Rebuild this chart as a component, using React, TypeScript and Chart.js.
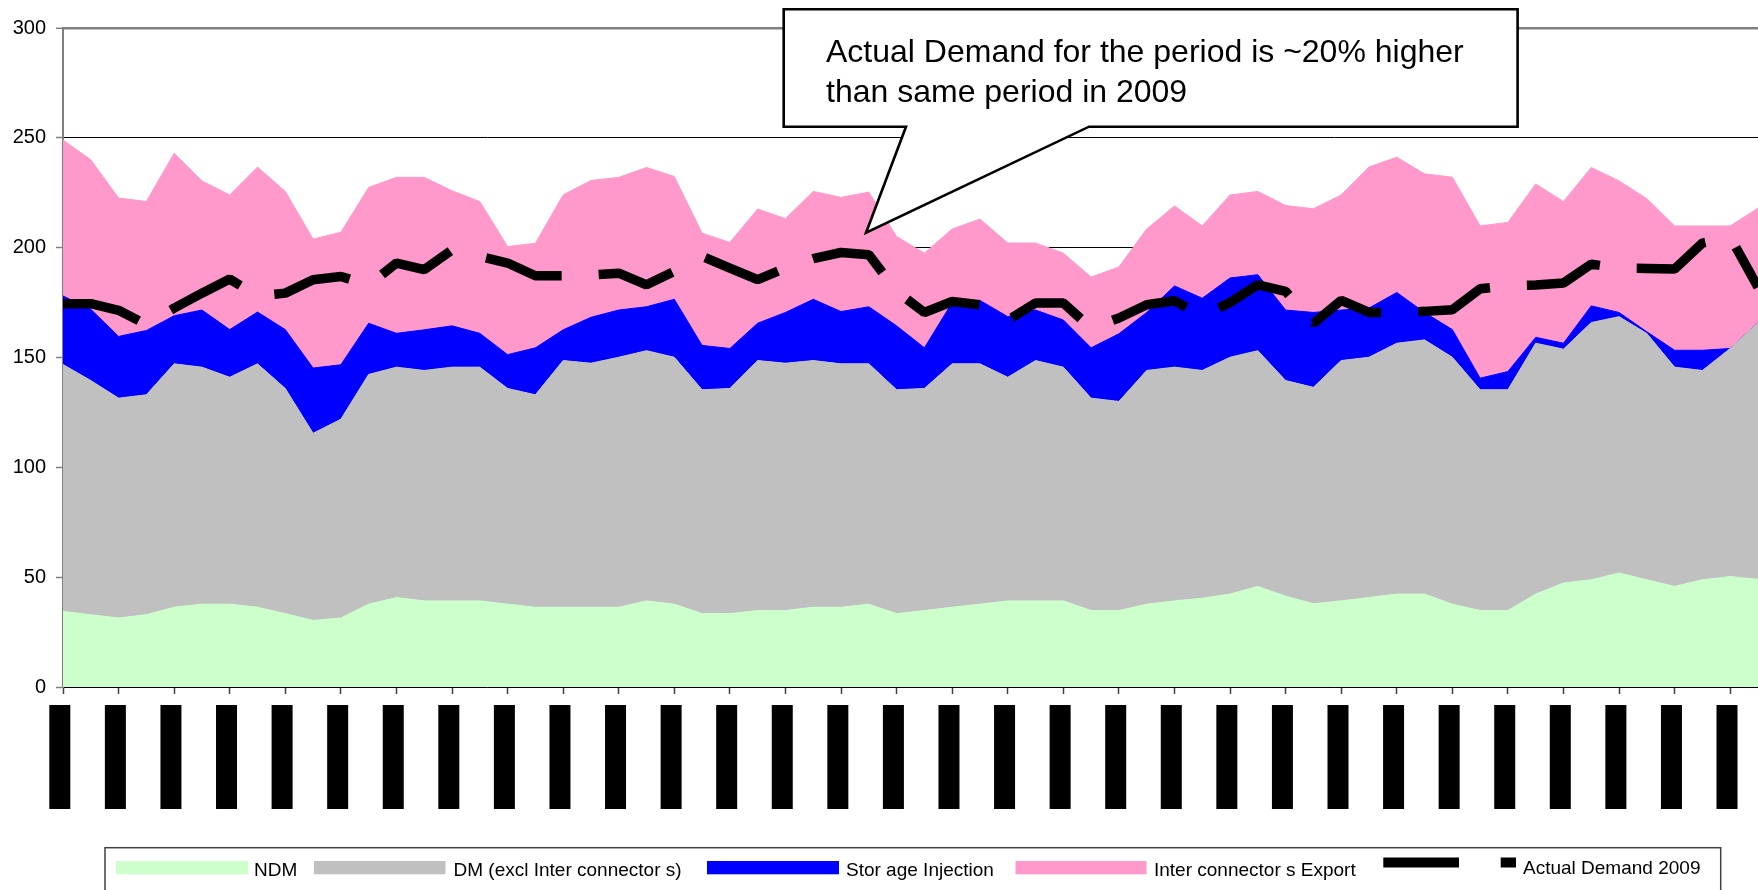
import React, { useEffect, useRef } from 'react';
import { Chart, registerables } from 'chart.js';

Chart.register(...registerables);

// ---------- data ----------
const categories = [
  '01/06/2010', '02/06/2010', '03/06/2010', '04/06/2010', '05/06/2010', '06/06/2010', '07/06/2010', '08/06/2010',
  '09/06/2010', '10/06/2010', '11/06/2010', '12/06/2010', '13/06/2010', '14/06/2010', '15/06/2010', '16/06/2010',
  '17/06/2010', '18/06/2010', '19/06/2010', '20/06/2010', '21/06/2010', '22/06/2010', '23/06/2010', '24/06/2010',
  '25/06/2010', '26/06/2010', '27/06/2010', '28/06/2010', '29/06/2010', '30/06/2010', '01/07/2010', '02/07/2010',
  '03/07/2010', '04/07/2010', '05/07/2010', '06/07/2010', '07/07/2010', '08/07/2010', '09/07/2010', '10/07/2010',
  '11/07/2010', '12/07/2010', '13/07/2010', '14/07/2010', '15/07/2010', '16/07/2010', '17/07/2010', '18/07/2010',
  '19/07/2010', '20/07/2010', '21/07/2010', '22/07/2010', '23/07/2010', '24/07/2010', '25/07/2010', '26/07/2010',
  '27/07/2010', '28/07/2010', '29/07/2010', '30/07/2010', '31/07/2010', '01/08/2010',
];

const ndm = [
  34.4, 32.9, 31.4, 32.9, 36.3, 37.7, 37.7, 36.3, 33.4, 30.3,
  31.4, 37.7, 40.7, 39.2, 39.2, 39.2, 37.7, 36.3, 36.3, 36.3,
  36.3, 39.2, 37.7, 33.4, 33.4, 34.8, 34.8, 36.3, 36.3, 37.7,
  33.4, 34.8, 36.3, 37.7, 39.2, 39.2, 39.2, 34.8, 34.8, 37.7,
  39.2, 40.4, 42.3, 45.8, 41.3, 37.9, 39.2, 40.7, 42.3, 42.3,
  37.7, 34.8, 34.8, 42.3, 47.3, 48.8, 51.9, 48.8, 45.8, 48.8,
  50.3, 49.0,
];

const dmExclInterconnectors = [
  112.4, 106.6, 100.1, 100.1, 110.8, 107.9, 103.3, 110.8, 102.5, 85.2,
  90.5, 104.6, 104.9, 104.9, 106.4, 106.4, 98.2, 96.7, 112.3, 111.1,
  113.8, 113.9, 112.4, 101.9, 102.5, 113.8, 112.6, 112.3, 110.8, 109.4,
  101.9, 101.1, 110.8, 109.4, 101.8, 109.4, 106.4, 96.7, 95.2, 106.4,
  106.4, 103.7, 107.8, 107.3, 98.2, 98.5, 109.4, 109.4, 114.2, 115.7,
  112.4, 100.5, 100.5, 114.2, 106.5, 117.1, 116.7, 112.1, 99.8, 95.3,
  103.8, 116.8,
];

const storageInjection = [
  31.2, 32.5, 28.1, 29.3, 21.9, 26.0, 21.7, 23.6, 26.8, 29.7,
  24.8, 23.3, 15.4, 18.5, 18.8, 15.4, 15.4, 21.4, 14.0, 20.9,
  21.5, 20.0, 26.4, 20.2, 18.2, 17.0, 23.1, 27.9, 23.8, 26.0,
  29.1, 18.5, 27.9, 28.9, 27.6, 23.0, 21.5, 22.9, 30.8, 26.4,
  37.0, 32.9, 36.1, 34.6, 32.1, 34.1, 23.0, 22.4, 23.1, 12.5,
  12.6, 5.3, 8.3, 2.7, 2.7, 7.6, 1.9, 0.8, 7.7, 9.2,
  0, 0,
];

const interconnectorsExport = [
  71.0, 68.0, 63.0, 58.7, 74.0, 58.8, 61.3, 66.0, 62.9, 58.7,
  60.3, 61.8, 71.0, 69.4, 61.5, 60.0, 49.2, 47.6, 61.4, 62.3,
  60.4, 63.4, 55.9, 51.1, 48.3, 52.0, 42.7, 49.1, 52.0, 52.2,
  40.7, 43.1, 33.5, 37.0, 33.5, 30.5, 30.4, 32.2, 30.4, 38.0,
  36.4, 32.9, 37.8, 37.9, 47.6, 47.2, 52.4, 64.2, 61.6, 63.1,
  69.4, 69.3, 67.9, 69.8, 64.5, 63.0, 59.9, 60.6, 56.6, 56.6,
  55.8, 52.2,
];

const actualDemand2009 = [
  174.5, 174.5, 171.5, 165.0, 172.5, 179.3, 185.7, 178.0, 179.3, 185.4,
  186.9, 183.0, 193.0, 190.0, 199.0, 196.0, 193.0, 187.2, 187.2, 187.5,
  188.4, 183.1, 189.2, 196.0, 190.7, 185.4, 190.7, 195.0, 197.8, 196.8,
  180.1, 170.5, 175.5, 174.0, 167.0, 174.8, 174.8, 163.4, 168.0, 174.0,
  175.8, 168.7, 175.0, 183.1, 180.1, 165.5, 176.0, 170.5, 170.5, 171.0,
  171.7, 181.3, 182.7, 183.0, 183.9, 192.5, 190.7, 190.5, 190.3, 202.1,
  204.8, 182.0,
];

const seriesNames = [
  'NDM',
  'DM (excl Inter connector s)',
  'Stor age Injection',
  'Inter connector s Export',
  'Actual Demand 2009',
];

const seriesColors = ['#CCFFCC', '#C0C0C0', '#0000FF', '#FF99CC', '#000000'];

const yMin = 0;
const yMax = 300;
const yStep = 50;

const calloutLines = [
  'Actual Demand for the period is ~20% higher',
  'than same period in 2009',
];
// the callout's pointer tip, in data coordinates (category index, value)
const calloutTip = { index: 28.9, value: 206.8 };

const FONT = '"Liberation Sans", Arial, "DejaVu Sans", sans-serif';

// ---------- plugins ----------
const blockLabelsPlugin = {
  id: 'blockLabels',
  afterDraw(chart: any) {
    const xs = chart.scales.x;
    const ctx = chart.ctx;
    ctx.save();
    xs.ticks.forEach((t: any, i: number) => {
      const px = xs.getPixelForTick(i);
      const w = 21;
      const h = 104;
      const left = px - 13.7;
      const top = xs.top + 18;
      ctx.fillStyle = '#000';
      ctx.fillRect(left, top, w, h);
      ctx.save();
      ctx.translate(left + w / 2, top + h / 2);
      ctx.rotate(-Math.PI / 2);
      ctx.font = `15px ${FONT}`;
      ctx.textAlign = 'center';
      ctx.textBaseline = 'middle';
      ctx.fillStyle = '#000';
      ctx.fillText(categories[t.value], 0, 0);
      ctx.restore();
    });
    ctx.restore();
  },
};

const boxLegendPlugin = {
  id: 'boxLegend',
  afterDraw(chart: any) {
    const ctx = chart.ctx;
    const ds = chart.data.datasets;
    ctx.save();
    ctx.strokeStyle = '#404040';
    ctx.lineWidth = 1.5;
    ctx.strokeRect(105, 847.7, 1720.7 - 105, 70);
    ctx.font = `19px ${FONT}`;
    ctx.textBaseline = 'alphabetic';
    ctx.textAlign = 'left';
    const areaItems = [
      { k: 0, sx: 116, sw: 132, tx: 254 },
      { k: 1, sx: 314, sw: 131.5, tx: 453.5 },
      { k: 2, sx: 707, sw: 132, tx: 846 },
      { k: 3, sx: 1015.5, sw: 131, tx: 1154 },
    ];
    areaItems.forEach((it) => {
      ctx.fillStyle = ds[it.k].backgroundColor;
      ctx.fillRect(it.sx, 861, it.sw, 13.3);
      ctx.fillStyle = '#000';
      ctx.fillText(ds[it.k].label, it.tx, 875.5);
    });
    ctx.fillStyle = ds[4].borderColor;
    ctx.fillRect(1383.3, 857.5, 75.7, 10);
    ctx.fillRect(1500.7, 857.5, 15.3, 10);
    ctx.fillStyle = '#000';
    ctx.fillText(ds[4].label, 1523, 874);
    ctx.restore();
  },
};

const calloutPlugin = {
  id: 'callout',
  afterDraw(chart: any) {
    const ctx = chart.ctx;
    const xs = chart.scales.x;
    const ys = chart.scales.y;
    const tipX = xs.getPixelForValue(calloutTip.index);
    const tipY = ys.getPixelForValue(calloutTip.value);
    const L = 783.7;
    const T = 9.3;
    const R = 1517.6;
    const B = 126.7;
    const b1 = 906;
    const b2 = 1089;
    ctx.save();
    ctx.beginPath();
    ctx.moveTo(L, T);
    ctx.lineTo(R, T);
    ctx.lineTo(R, B);
    ctx.lineTo(b2, B);
    ctx.lineTo(tipX, tipY);
    ctx.lineTo(b1, B);
    ctx.lineTo(L, B);
    ctx.closePath();
    ctx.fillStyle = '#FFFFFF';
    ctx.fill();
    ctx.lineWidth = 2.6;
    ctx.lineJoin = 'miter';
    ctx.strokeStyle = '#000';
    ctx.stroke();
    ctx.fillStyle = '#000';
    ctx.font = `32px ${FONT}`;
    ctx.textAlign = 'left';
    ctx.textBaseline = 'alphabetic';
    ctx.fillText(calloutLines[0], 826, 61.5);
    ctx.fillText(calloutLines[1], 826, 101.7);
    ctx.restore();
  },
};

export default function App() {
  const ref = useRef<HTMLCanvasElement | null>(null);

  useEffect(() => {
    if (!ref.current) return;
    const areaData = [ndm, dmExclInterconnectors, storageInjection, interconnectorsExport];
    const datasets: any[] = areaData.map((d, k) => ({
      label: seriesNames[k],
      data: d,
      backgroundColor: seriesColors[k],
      borderColor: seriesColors[k],
      borderWidth: 1,
      pointRadius: 0,
      fill: k === 0 ? 'origin' : '-1',
      stack: 'supply',
      tension: 0,
    }));
    datasets.push({
      label: seriesNames[4],
      data: actualDemand2009,
      backgroundColor: seriesColors[4],
      borderColor: seriesColors[4],
      borderWidth: 9.5,
      borderDash: [79, 37],
      borderCapStyle: 'butt',
      borderJoinStyle: 'bevel',
      pointRadius: 0,
      fill: false,
      stack: 'actual',
      order: -1,
      tension: 0,
    });

    const chart = new Chart(ref.current, {
      type: 'line',
      data: { labels: categories, datasets },
      options: {
        responsive: false,
        animation: false,
        devicePixelRatio: 1,
        layout: { padding: { top: 28, left: 0, right: 0, bottom: 0 } },
        plugins: {
          legend: { display: false },
          tooltip: { enabled: false },
        },
        scales: {
          x: {
            type: 'category',
            offset: false,
            grid: {
              display: true,
              drawOnChartArea: false,
              drawTicks: true,
              tickLength: 7,
              tickColor: '#404040',
              tickWidth: 1.5,
            },
            border: { display: true, color: '#000', width: 1.5 },
            ticks: { display: false, autoSkip: false },
            afterBuildTicks: (s: any) => {
              s.ticks = s.ticks.filter((t: any) => t.value % 2 === 0);
            },
            afterFit: (s: any) => {
              s.height = 203;
              s.paddingLeft = 0;
              s.paddingRight = 0;
            },
          },
          y: {
            stacked: true,
            min: yMin,
            max: yMax,
            ticks: {
              stepSize: yStep,
              color: '#000',
              padding: 10,
              font: { family: FONT, size: 20 },
            },
            grid: {
              color: (c: any) => (c.tick && c.tick.value === yMax ? '#808080' : '#000'),
              lineWidth: (c: any) => (c.tick && c.tick.value === yMax ? 2.6 : 1),
              tickColor: '#808080',
              tickLength: 7,
              tickWidth: 1.5,
            },
            border: { display: true, color: '#808080', width: 2 },
            afterFit: (s: any) => {
              s.width = 63;
            },
          },
        },
      } as any,
      plugins: [blockLabelsPlugin, boxLegendPlugin, calloutPlugin],
    });
    return () => chart.destroy();
  }, []);

  return (
    <div
      style={{
        position: 'fixed',
        left: 0,
        top: 0,
        width: 1758,
        height: 890,
        overflow: 'hidden',
        background: '#fff',
      }}
    >
      <canvas ref={ref} width={1758} height={890} style={{ display: 'block', width: 1758, height: 890 }} />
    </div>
  );
}
